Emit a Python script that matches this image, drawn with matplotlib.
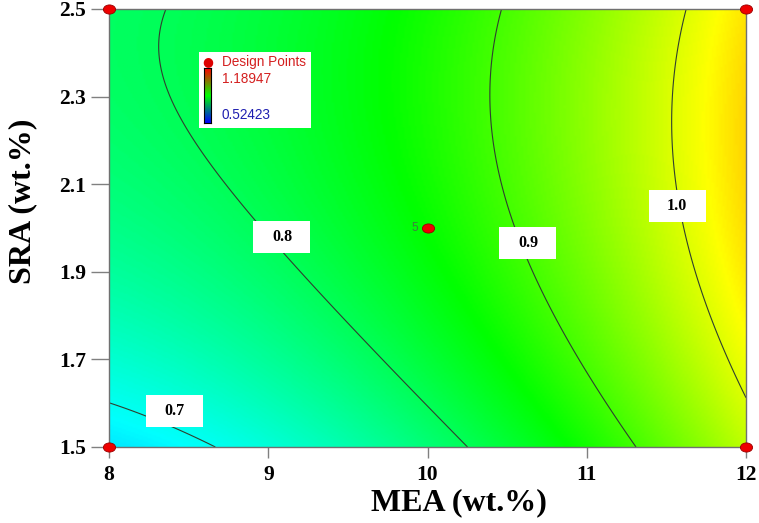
import numpy as np
import matplotlib
matplotlib.use('Agg')
import matplotlib.pyplot as plt
from matplotlib.colors import LinearSegmentedColormap
from matplotlib.path import Path
from matplotlib.patches import Rectangle

# contour traces (MEA, SRA) for each level
lev_07_x = [8.0, 8.678]
lev_07_y = [1.600, 1.5]
lev_08_x = [8.364, 8.308, 8.396, 8.521, 8.904, 9.620, 10.248]
lev_08_y = [2.5, 2.406, 2.292, 2.217, 2.018, 1.733, 1.5]
lev_09_x = [10.462, 10.386, 10.531, 10.625, 11.002, 11.303]
lev_09_y = [2.5, 2.299, 2.025, 1.927, 1.683, 1.5]
lev_10_x = [11.630, 11.535, 11.554, 11.598, 11.774, 12.0]
lev_10_y = [2.5, 2.292, 2.094, 2.011, 1.813, 1.607]
levels = [0.7, 0.8, 0.9, 1.0]

# contour label positions
label_x = [8.414, 9.086, 10.631, 11.567]
label_y = [1.582, 1.979, 1.966, 2.050]

# design points
dp_x = [8, 8, 12, 12, 10]
dp_y = [1.5, 2.5, 1.5, 2.5, 2.0]
z_min, z_max = 0.52423, 1.18947

# fit a quadratic response surface to the traced contours (coded units)
px = np.concatenate([lev_07_x, lev_08_x, lev_09_x, lev_10_x])
py = np.concatenate([lev_07_y, lev_08_y, lev_09_y, lev_10_y])
pz = np.concatenate([np.full(len(lev_07_x), 0.7), np.full(len(lev_08_x), 0.8),
                     np.full(len(lev_09_x), 0.9), np.full(len(lev_10_x), 1.0)])

def terms(x, y):
    A = (x - 10) / 2
    B = (y - 2) / 0.5
    return np.stack([np.ones_like(A), A, B, A * B, A ** 2, B ** 2], axis=-1)

coef, *_ = np.linalg.lstsq(terms(px, py), pz, rcond=None)

gx, gy = np.meshgrid(np.linspace(8, 12, 300), np.linspace(1.5, 2.5, 300))
gz = terms(gx, gy) @ coef

cmap = LinearSegmentedColormap.from_list('de', ['#0000ff', '#00ffff', '#00ff00', '#ffff00', '#ff0000'])
bar_cmap = LinearSegmentedColormap.from_list('bar', ['#0000ff', '#00ff00', '#ff0000'])

fig = plt.figure(figsize=(7.59, 5.23), dpi=100)
ax = fig.add_axes([109 / 759, 76 / 523, 637 / 759, 438 / 523])

ax.imshow(gz, origin='lower', extent=[8, 12, 1.5, 2.5], aspect='auto',
          cmap=cmap, vmin=z_min, vmax=z_max, interpolation='bilinear')
ax.contour(gx, gy, gz, levels=levels, colors='#2f3f2f', linewidths=0.8)

serif = 'Liberation Serif'
box_w, box_h = 57 / 159.25, 32 / 438
for lx, ly, lv in zip(label_x, label_y, levels):
    ax.add_patch(Rectangle((lx - box_w / 2, ly - box_h / 2), box_w, box_h,
                           fc='white', ec='none', zorder=4))
    ax.text(lx, ly, '%.1f' % lv, ha='center', va='center', fontsize=11.5,
            fontweight='bold', family=serif, zorder=5)

# elliptical design point marker
circ = Path.unit_circle()
ell = Path(circ.vertices * np.array([1.0, 0.75]), circ.codes)
ax.plot(dp_x, dp_y, linestyle='none', marker=ell, markersize=8.8,
        mfc='#ee0000', mec='#990000', mew=0.6, clip_on=False, zorder=10)
ax.annotate('5', (dp_x[4], dp_y[4]), xytext=(-9.5, 0), textcoords='offset points',
            ha='center', va='center', fontsize=8.5, color='#3f7f3f', family='Liberation Sans')

ax.set_xlim(8, 12)
ax.set_ylim(1.5, 2.5)
ax.set_xticks([8, 9, 10, 11, 12])
ax.set_yticks([1.5, 1.7, 1.9, 2.1, 2.3, 2.5])
ax.set_yticklabels(['1.5', '1.7', '1.9', '2.1', '2.3', '2.5'])
ax.tick_params(axis='x', length=8, width=1, color='#808080', pad=5)
ax.tick_params(axis='y', length=13, width=1, color='#808080', pad=3.5)
for lab in ax.get_xticklabels() + ax.get_yticklabels():
    lab.set_fontfamily(serif)
    lab.set_fontweight('bold')
    lab.set_fontsize(15.5)
for sp in ax.spines.values():
    sp.set_color('#707070')
    sp.set_linewidth(1)

ax.set_xlabel('MEA (wt.%)', fontsize=23, fontweight='bold', family=serif)
ax.set_ylabel('SRA (wt.%)', fontsize=23, fontweight='bold', family=serif)
ax.xaxis.set_label_coords(0.549, -0.094)
ax.yaxis.set_label_coords(-0.112, 0.56)

# legend box with gradient bar
fig.patches.append(Rectangle((199 / 759, 1 - 128 / 523), 112 / 759, 76 / 523,
                             transform=fig.transFigure, fc='white', ec='none', zorder=20))
bax = fig.add_axes([204 / 759, 1 - 123 / 523, 7 / 759, 55 / 523], zorder=21)
bax.imshow(np.linspace(0, 1, 100).reshape(-1, 1), origin='lower', aspect='auto', cmap=bar_cmap)
bax.set_xticks([])
bax.set_yticks([])
for sp in bax.spines.values():
    sp.set_linewidth(0.8)
fig.text(208 / 759, 1 - 62 / 523, '\u25cf', color='#dd0000', fontsize=9, ha='center', va='center', zorder=22)
fig.text(222 / 759, 1 - 62 / 523, 'Design Points', color='#d42020', fontsize=9.8,
         family='Liberation Sans', va='center', zorder=22)
fig.text(222 / 759, 1 - 79 / 523, '1.18947', color='#d42020', fontsize=9.8,
         family='Liberation Sans', va='center', zorder=22)
fig.text(222 / 759, 1 - 115 / 523, '0.52423', color='#2020b0', fontsize=9.8,
         family='Liberation Sans', va='center', zorder=22)

fig.savefig('out.png', dpi=100)
